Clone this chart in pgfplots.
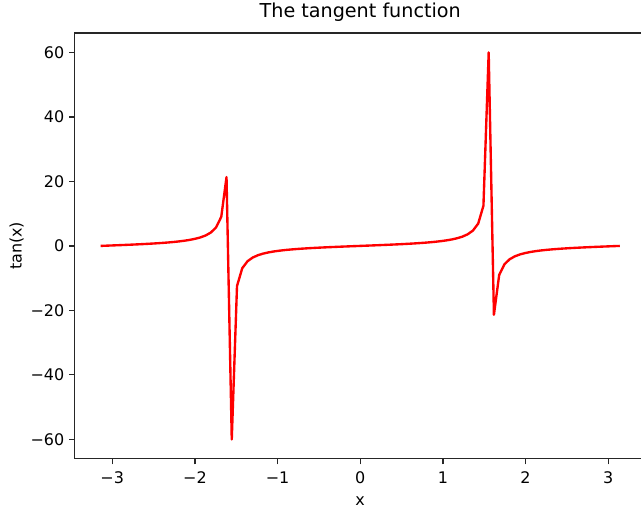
\documentclass[border=0pt]{standalone}
\usepackage{fontspec}
\setmainfont{DejaVu Sans}
\usepackage{pgfplots}
\usepackage{pgfplotstable}
\pgfplotsset{compat=1.18}

% tan(x) sampled at 100 points between -3.14 and 3.14
\pgfplotstableread{
x y
-3.1400000 0.0016
-3.0765657 0.065119
-3.0131313 0.129173
-2.9496970 0.194286
-2.8862626 0.261028
-2.8228283 0.330019
-2.7593939 0.401964
-2.6959596 0.477680
-2.6325253 0.558140
-2.5690909 0.644500
-2.5056566 0.738246
-2.4422222 0.841212
-2.3787879 0.955803
-2.3153535 1.085208
-2.2519192 1.233776
-2.1884848 1.407607
-2.1250505 1.615577
-2.0616162 1.871111
-1.9981818 2.195582
-1.9347475 2.625218
-1.8713131 3.226900
-1.8078788 4.138660
-1.7444444 5.700740
-1.6810101 9.036860
-1.6175758 21.3613
-1.5541414 -60.0368
-1.4907071 -12.4594
-1.4272727 -6.9196
-1.3638384 -4.7627
-1.3004040 -3.6078
-1.2369697 -2.8834
-1.1735354 -2.3834
-1.1101010 -2.0148
-1.0466667 -1.7299
-0.9832323 -1.5014
-0.9197980 -1.3127
-0.8563636 -1.1530
-0.7929293 -1.0152
-0.7294949 -0.8940
-0.6660606 -0.7859
-0.6026263 -0.6880
-0.5391919 -0.5983
-0.4757576 -0.5152
-0.4123232 -0.4374
-0.3488889 -0.3638
-0.2854545 -0.2935
-0.2220202 -0.2257
-0.1585859 -0.1599
-0.0951515 -0.0954
-0.0317172 -0.0317
0.0317172 0.0317
0.0951515 0.0954
0.1585859 0.1599
0.2220202 0.2257
0.2854545 0.2935
0.3488889 0.3638
0.4123232 0.4374
0.4757576 0.5152
0.5391919 0.5983
0.6026263 0.6880
0.6660606 0.7859
0.7294949 0.8940
0.7929293 1.0152
0.8563636 1.1530
0.9197980 1.3127
0.9832323 1.5014
1.0466667 1.7299
1.1101010 2.0148
1.1735354 2.3834
1.2369697 2.8834
1.3004040 3.6078
1.3638384 4.7627
1.4272727 6.9196
1.4907071 12.4594
1.5541414 60.0368
1.6175758 -21.3613
1.6810101 -9.036860
1.7444444 -5.700740
1.8078788 -4.138660
1.8713131 -3.226900
1.9347475 -2.625218
1.9981818 -2.195582
2.0616162 -1.871111
2.1250505 -1.615577
2.1884848 -1.407607
2.2519192 -1.233776
2.3153535 -1.085208
2.3787879 -0.955803
2.4422222 -0.841212
2.5056566 -0.738246
2.5690909 -0.644500
2.6325253 -0.558140
2.6959596 -0.477680
2.7593939 -0.401964
2.8228283 -0.330019
2.8862626 -0.261028
2.9496970 -0.194286
3.0131313 -0.129173
3.0765657 -0.065119
3.1400000 -0.0016
}\tanData

\begin{document}
\begin{tikzpicture}
\begin{axis}[
    at={(0,0)}, anchor=south west,
    scale only axis,
    width=411.1pt, height=306.5pt,
    xmin=-3.454, xmax=3.454,
    ymin=-66.04, ymax=66.04,
    axis line style={black!85, line width=0.9pt},
    tick align=outside,
    tick pos=left,
    major tick length=4pt,
    tick style={black!85, line width=0.9pt},
    xtick={-3,-2,-1,0,1,2,3},
    xticklabels={−3,−2,−1,0,1,2,3},
    ytick={-60,-40,-20,0,20,40,60},
    yticklabels={−60,−40,−20,0,20,40,60},
    tick label style={font=\fontsize{11.5}{13}\selectfont},
    xticklabel style={anchor=base, yshift=-14.1pt},
    title={The tangent function},
    title style={font=\fontsize{13.8}{16}\selectfont, at={(axis description cs:0.5,1)}, anchor=base, yshift=5.5pt},
    xlabel={x},
    ylabel={tan(x)},
    label style={font=\fontsize{11.5}{13}\selectfont},
    xlabel style={at={(axis description cs:0.5,-0.1002)}, anchor=center},
    ylabel style={at={(axis description cs:-0.1017,0.5)}, anchor=center},
]
\addplot[red, line width=1.7pt, line join=round] table {\tanData};
\end{axis}
\pgfresetboundingbox
\useasboundingbox (-53.8pt,-35.5pt) rectangle (407.7pt,330.3pt);
\end{tikzpicture}
\end{document}
